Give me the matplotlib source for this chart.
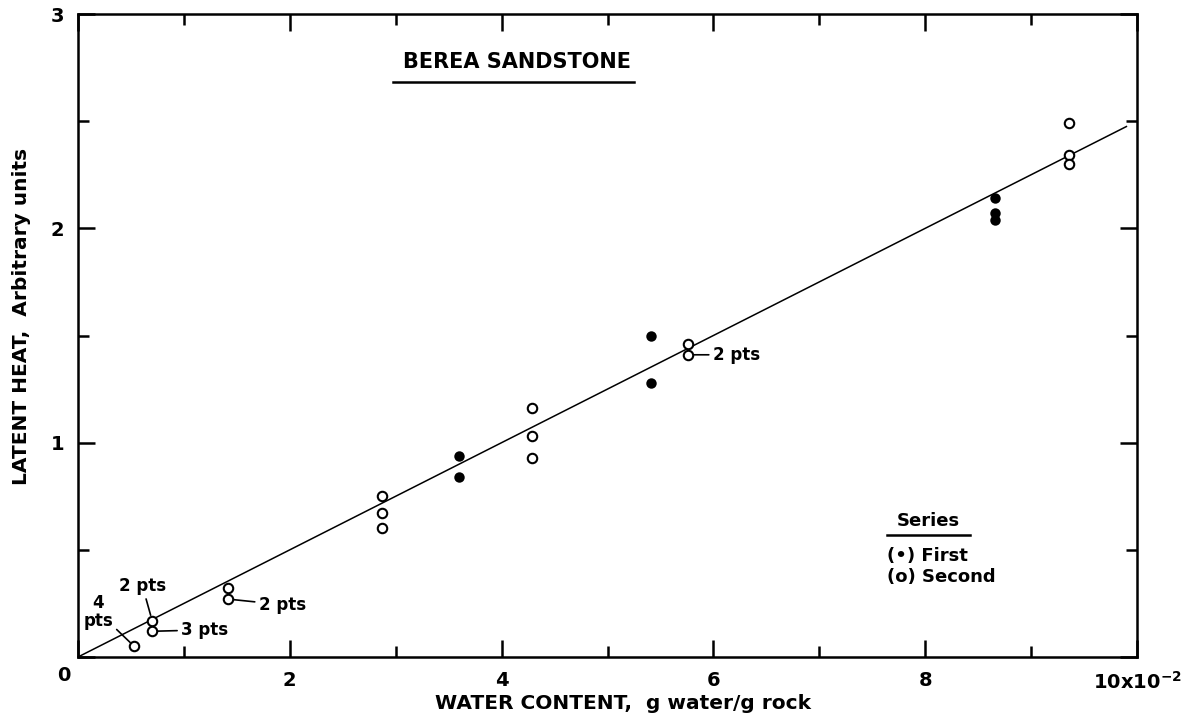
import matplotlib
matplotlib.use("Agg")
import matplotlib.pyplot as plt
import numpy as np
from matplotlib.ticker import MultipleLocator

plt.rcParams['font.family'] = ['DejaVu Sans']
plt.rcParams['font.weight'] = 'bold'
plt.rcParams['axes.labelweight'] = 'bold'

# water content (x 10^-2 g water / g rock) and latent heat (arbitrary units)
first_x = [3.60, 3.60, 5.41, 5.41, 8.66, 8.66, 8.66]
first_y = [0.94, 0.84, 1.50, 1.28, 2.14, 2.07, 2.04]

second_x = [0.53, 0.70, 0.70, 1.42, 1.42, 2.87, 2.87, 2.87,
            4.29, 4.29, 4.29, 5.76, 5.76, 9.36, 9.36, 9.36]
second_y = [0.05, 0.17, 0.12, 0.32, 0.27, 0.75, 0.67, 0.60,
            1.16, 1.03, 0.93, 1.46, 1.41, 2.49, 2.34, 2.30]

# straight-line fit through the origin
fit_slope = 0.25
fit_xmax = 9.9

# multiple-point labels: (x, y, text, offset in points, alignment)
point_notes = [
    (5.76, 1.41, "2 pts", (18, 0), "left"),
    (1.42, 0.27, "2 pts", (22, -4), "left"),
    (0.70, 0.17, "2 pts", (-7, 25), "center"),
    (0.70, 0.12, "3 pts", (21, 1), "left"),
    (0.53, 0.05, "4\npts", (-26, 25), "center"),
]

fig = plt.figure(figsize=(11.91, 7.2), dpi=100)
W, H = 1191, 720
ax = fig.add_axes([78 / W, (H - 657) / H, (1137 - 78) / W, (657 - 14) / H])

fx = np.array([0, fit_xmax])
ax.plot(fx, fit_slope * fx, color='black', lw=1.1, zorder=1)

ax.plot(first_x, first_y, 'o', ms=6.3, mfc='black', mec='black', mew=1.2, zorder=3)
ax.plot(second_x, second_y, 'o', ms=6.8, mfc='white', mec='black', mew=1.5, zorder=3)

for x, y, txt, off, ha in point_notes:
    ax.annotate(txt, xy=(x, y), xytext=off, textcoords='offset points',
                ha=ha, va='center', fontsize=12, linespacing=1.0,
                arrowprops=dict(arrowstyle='-', lw=1.2, color='black',
                                shrinkA=1, shrinkB=4))

ax.set_xlim(0, 10)
ax.set_ylim(0, 3)

ax.xaxis.set_major_locator(MultipleLocator(2))
ax.xaxis.set_minor_locator(MultipleLocator(1))
ax.yaxis.set_major_locator(MultipleLocator(1))
ax.yaxis.set_minor_locator(MultipleLocator(0.5))
ax.tick_params(which='both', direction='in', top=True, right=True,
               width=1.8, labelsize=14)
ax.tick_params(which='major', length=12)
ax.tick_params(which='minor', length=8)
ax.tick_params(axis='x', pad=10)
ax.tick_params(axis='y', pad=10)
ax.set_xticks([0, 2, 4, 6, 8, 10])
ax.set_xticklabels(['', '2', '4', '6', '8', r'10x10$^{-2}$'])
ax.set_yticks([0, 1, 2, 3])
ax.set_yticklabels(['', '1', '2', '3'])
ax.annotate('0', xy=(0, 0), xytext=(-10, -13), textcoords='offset points',
            ha='center', va='center', fontsize=14)

for s in ax.spines.values():
    s.set_linewidth(1.8)

ax.set_xlabel('WATER CONTENT,  g water/g rock', fontsize=14.5)
ax.xaxis.set_label_coords(0.515, -0.057)
ax.set_ylabel('LATENT HEAT,  Arbitrary units', fontsize=14.5)
ax.yaxis.set_label_coords(-0.044, 0.53)

# chart title, underlined
ax.text(0.415, 0.925, 'BEREA SANDSTONE', transform=ax.transAxes,
        ha='center', va='center', fontsize=15)
ax.plot([0.297, 0.525], [0.894, 0.894], transform=ax.transAxes,
        color='black', lw=1.8, clip_on=False)

# series key
ax.text(0.803, 0.211, 'Series', transform=ax.transAxes,
        ha='center', va='center', fontsize=13)
ax.plot([0.764, 0.842], [0.19, 0.19], transform=ax.transAxes,
        color='black', lw=1.8)
ax.text(0.764, 0.157, '(\u2022) First', transform=ax.transAxes,
        ha='left', va='center', fontsize=13)
ax.text(0.764, 0.124, '(o) Second', transform=ax.transAxes,
        ha='left', va='center', fontsize=13)

fig.savefig('out.png', dpi=100)
